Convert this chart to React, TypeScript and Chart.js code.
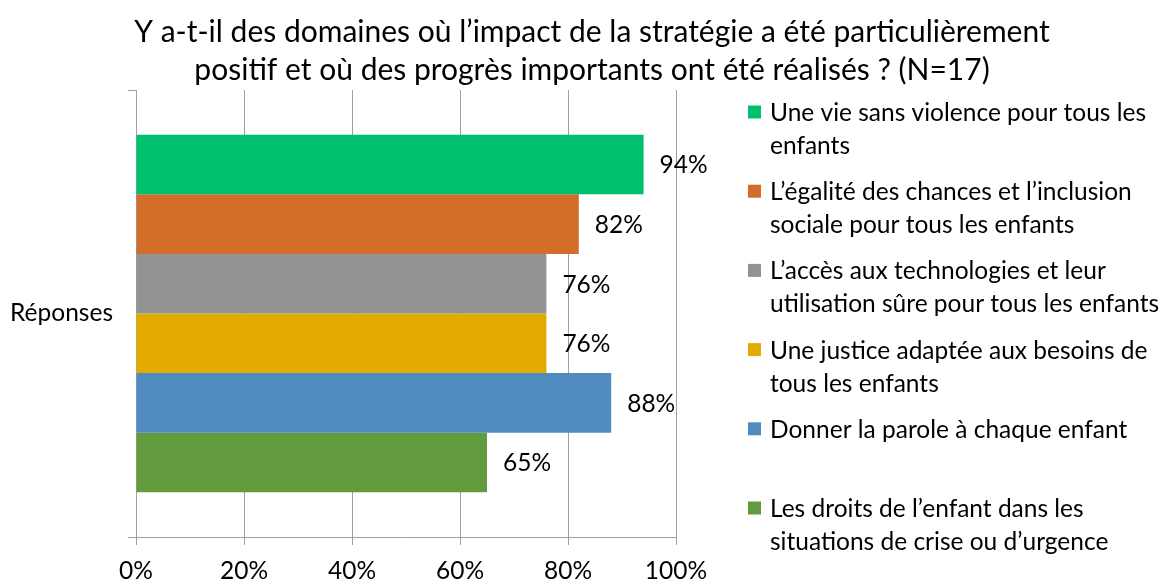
import React, { useEffect, useRef } from "react";
import { Chart, registerables } from "chart.js";

Chart.register(...registerables);

const titleLines = [
  "Y a-t-il des domaines où l’impact de la stratégie a été particulièrement",
  "positif et où des progrès importants ont été réalisés ? (N=17)",
];
const categories = ["Réponses"];
const seriesLabels: string[][] = [
  ["Une vie sans violence pour tous les", "enfants"],
  ["L’égalité des chances et l’inclusion", "sociale pour tous les enfants"],
  ["L’accès aux technologies et leur", "utilisation sûre pour tous les enfants"],
  ["Une justice adaptée aux besoins de", "tous les enfants"],
  ["Donner la parole à chaque enfant"],
  ["Les droits de l’enfant dans les", "situations de crise ou d’urgence"],
];
const seriesValues = [94, 82, 76, 76, 88, 65];
const seriesColors = ["#00BF6F", "#D26E2A", "#939393", "#E3AB00", "#4F8BBE", "#629B3D"];
const xTickStep = 20;
const xMin = 0;
const xMax = 100;

const FONT = "Lato, 'Open Sans', sans-serif";
const SMALL = 24.5;

const overlayPlugin = {
  id: "overlay",
  afterDatasetsDraw(chart: any) {
    const ctx = chart.ctx;
    ctx.save();
    // data labels
    ctx.fillStyle = "#000";
    ctx.font = `${SMALL}px ${FONT}`;
    ctx.textAlign = "left";
    ctx.textBaseline = "middle";
    chart.data.datasets.forEach((ds: any, i: number) => {
      const meta = chart.getDatasetMeta(i);
      meta.data.forEach((el: any, j: number) => {
        ctx.fillText(`${ds.data[j]}%`, el.x + 16, el.y + 1);
      });
    });
    // title
    ctx.textAlign = "center";
    ctx.textBaseline = "alphabetic";
    ctx.font = `30px ${FONT}`;
    ctx.fillText(titleLines[0], 592, 42);
    ctx.fillText(titleLines[1], 592, 80);
    // legend
    ctx.textAlign = "left";
    ctx.textBaseline = "middle";
    ctx.font = `${SMALL}px ${FONT}`;
    chart.data.datasets.forEach((ds: any, i: number) => {
      const y0 = 112 + i * 79.2;
      ctx.fillStyle = ds.backgroundColor;
      ctx.fillRect(748, y0 - 6.5, 13, 13);
      ctx.fillStyle = "#000";
      (ds.lines as string[]).forEach((line: string, k: number) => {
        ctx.fillText(line, 770, y0 + 1 + k * 33);
      });
    });
    ctx.restore();
  },
};

export default function App() {
  const ref = useRef<HTMLCanvasElement | null>(null);
  useEffect(() => {
    document.body.style.margin = "0";
    document.body.style.overflow = "hidden";
    const canvas = ref.current!;
    const chart = new Chart(canvas, {
      type: "bar",
      data: {
        labels: categories,
        datasets: seriesValues.map((v, i) => ({
          label: seriesLabels[i].join(" "),
          lines: seriesLabels[i],
          data: [v],
          backgroundColor: seriesColors[i],
          borderWidth: 0,
          categoryPercentage: 0.8,
          barPercentage: 1,
        })) as any,
      },
      options: {
        animation: false,
        responsive: false,
        indexAxis: "y",
        layout: { padding: { top: 90, right: 1168 - 676, bottom: 0, left: 0 } },
        plugins: {
          legend: { display: false },
          title: { display: false },
          tooltip: { enabled: false },
        },
        scales: {
          x: {
            min: xMin,
            max: xMax,
            ticks: {
              stepSize: xTickStep,
              callback: (v: any) => `${v}%`,
              font: { family: FONT, size: SMALL },
              color: "#000",
              padding: 11,
              maxRotation: 0,
            },
            grid: { color: "#A0A0A0", tickLength: 8, lineWidth: 1 },
            border: { color: "#A0A0A0", width: 1 },
            afterFit: (s: any) => {
              s.height = 581 - 537;
            },
          },
          y: {
            grid: { drawOnChartArea: false, tickLength: 8, color: "#A0A0A0", offset: true },
            border: { color: "#A0A0A0", width: 1 },
            ticks: { font: { family: FONT, size: SMALL }, color: "#000", padding: 15 },
            afterFit: (s: any) => {
              s.width = 136;
            },
          },
        },
      } as any,
      plugins: [overlayPlugin],
    });
    return () => chart.destroy();
  }, []);
  return (
    <div style={{ width: 1168, height: 581, position: "relative", background: "#fff" }}>
      <canvas ref={ref} width={1168} height={581} style={{ display: "block", width: 1168, height: 581 }} />
    </div>
  );
}
